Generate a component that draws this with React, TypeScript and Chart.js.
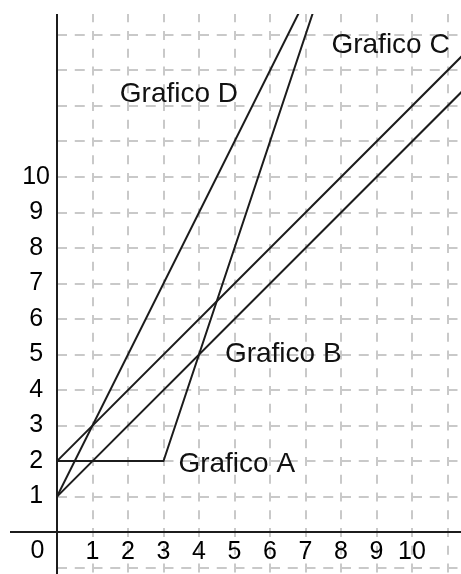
import React, { useEffect, useRef } from 'react';
import { Chart, registerables } from 'chart.js';

Chart.register(...registerables);

const WIDTH = 461;
const HEIGHT = 574;

// Piecewise-linear graphs given as x / y pairs; the last point of each lies past the plot edge and is clipped.
const graficoAX = [0, 3, 8];
const graficoAY = [2, 2, 17];
const graficoBX = [0, 12];
const graficoBY = [1, 13];
const graficoCX = [0, 12];
const graficoCY = [2, 14];
const graficoDX = [0, 8];
const graficoDY = [1, 17];

const seriesNames = ['Grafico A', 'Grafico B', 'Grafico C', 'Grafico D'];

// Numbered ticks along each axis (the origin gets its own "0").
const xTickLabels = [1, 2, 3, 4, 5, 6, 7, 8, 9, 10];
const yTickLabels = [1, 2, 3, 4, 5, 6, 7, 8, 9, 10];
const originLabel = '0';

// Grid lines at every unit inside the visible window.
const xGridValues = [0, 1, 2, 3, 4, 5, 6, 7, 8, 9, 10, 11];
const yGridValues = [-1, 0, 1, 2, 3, 4, 5, 6, 7, 8, 9, 10, 11, 12, 13, 14];

// Where each graph's name is written, in data units (left edge, baseline).
const nameAnchors: [number, number][] = [
  [3.42, 1.69],
  [4.73, 4.8],
  [7.73, 13.48],
  [1.77, 12.12],
];

const pairs = (xs: number[], ys: number[]) => xs.map((x, i) => ({ x, y: ys[i] }));

const TICK_FONT = { family: '"Liberation Sans", Arial, sans-serif', size: 25 };
const NAME_FONT = '28px "Liberation Sans", Arial, sans-serif';
const INK = '#1c1c1c';
const GRID = '#c9c9c9';

const axesPlugin = {
  id: 'axesAndNames',
  beforeDatasetsDraw(chart: any) {
    const { ctx, chartArea, scales } = chart;
    const x0 = scales.x.getPixelForValue(0);
    const y0 = scales.y.getPixelForValue(0);
    ctx.save();
    ctx.strokeStyle = INK;
    ctx.lineWidth = 2;
    ctx.beginPath();
    // horizontal axis runs out past the vertical one, to the left
    ctx.moveTo(10, y0);
    ctx.lineTo(chartArea.right, y0);
    // vertical axis over the full plot height
    ctx.moveTo(x0, chartArea.top);
    ctx.lineTo(x0, chartArea.bottom);
    ctx.stroke();
    ctx.restore();
  },
  afterDatasetsDraw(chart: any) {
    const { ctx, scales } = chart;
    const x0 = scales.x.getPixelForValue(0);
    const y0 = scales.y.getPixelForValue(0);
    ctx.save();
    ctx.fillStyle = '#000';
    ctx.font = `${TICK_FONT.size}px ${TICK_FONT.family}`;
    ctx.textAlign = 'center';
    ctx.textBaseline = 'middle';
    ctx.fillText(originLabel, x0 - 19.5, y0 + 19);

    ctx.font = NAME_FONT;
    ctx.fillStyle = '#111';
    ctx.textAlign = 'left';
    ctx.textBaseline = 'alphabetic';
    seriesNames.forEach((name, i) => {
      const [ax, ay] = nameAnchors[i];
      ctx.fillText(name, scales.x.getPixelForValue(ax), scales.y.getPixelForValue(ay));
    });
    ctx.restore();
  },
};

export default function App() {
  const canvasRef = useRef<HTMLCanvasElement | null>(null);

  useEffect(() => {
    const canvas = canvasRef.current;
    if (!canvas) return;

    const lineStyle = {
      borderColor: INK,
      borderWidth: 2,
      pointRadius: 0,
      fill: false,
      tension: 0,
    };

    const chart = new Chart(canvas, {
      type: 'line',
      data: {
        datasets: [
          { label: seriesNames[0], data: pairs(graficoAX, graficoAY), ...lineStyle },
          { label: seriesNames[1], data: pairs(graficoBX, graficoBY), ...lineStyle },
          { label: seriesNames[2], data: pairs(graficoCX, graficoCY), ...lineStyle },
          { label: seriesNames[3], data: pairs(graficoDX, graficoDY), ...lineStyle },
        ],
      },
      options: {
        animation: false,
        responsive: false,
        devicePixelRatio: 1,
        layout: { padding: { top: 14, left: 15, right: 0, bottom: 0 } },
        plugins: {
          legend: { display: false },
          tooltip: { enabled: false },
        },
        scales: {
          x: {
            type: 'linear',
            position: { y: 0 } as any,
            min: 0,
            max: 11.38,
            afterBuildTicks: (scale: any) => {
              scale.ticks = xGridValues.map((v) => ({ value: v }));
            },
            afterFit: (scale: any) => {
              scale.paddingLeft = 0;
              scale.paddingRight = 0;
              scale.paddingTop = 0;
              scale.paddingBottom = 0;
            },
            grid: { color: GRID, lineWidth: 2, drawTicks: false },
            border: { display: false, dash: [9, 8.75], dashOffset: 0.75 },
            ticks: {
              autoSkip: false,
              maxRotation: 0,
              padding: 5,
              color: '#000',
              font: TICK_FONT,
              callback: (v: any) => (xTickLabels.includes(Number(v)) ? String(v) : ''),
            },
          },
          y: {
            type: 'linear',
            position: 'left',
            min: -1.18,
            max: 14.59,
            afterBuildTicks: (scale: any) => {
              scale.ticks = yGridValues.map((v) => ({ value: v }));
            },
            afterFit: (scale: any) => {
              scale.width = 42;
              scale.paddingTop = 0;
              scale.paddingBottom = 0;
              scale.paddingLeft = 0;
              scale.paddingRight = 0;
            },
            grid: { color: GRID, lineWidth: 2, drawTicks: false },
            border: { display: false, dash: [10, 7.75], dashOffset: 0 },
            ticks: {
              autoSkip: false,
              crossAlign: 'center',
              padding: 7,
              color: '#000',
              font: TICK_FONT,
              callback: (v: any) => (yTickLabels.includes(Number(v)) ? String(v) : ''),
            },
          },
        },
      },
      plugins: [axesPlugin],
    } as any);

    return () => chart.destroy();
  }, []);

  return (
    <div style={{ position: 'absolute', left: 0, top: 0, width: WIDTH, height: HEIGHT, background: '#fff' }}>
      <canvas ref={canvasRef} width={WIDTH} height={HEIGHT} style={{ display: 'block' }} />
    </div>
  );
}
